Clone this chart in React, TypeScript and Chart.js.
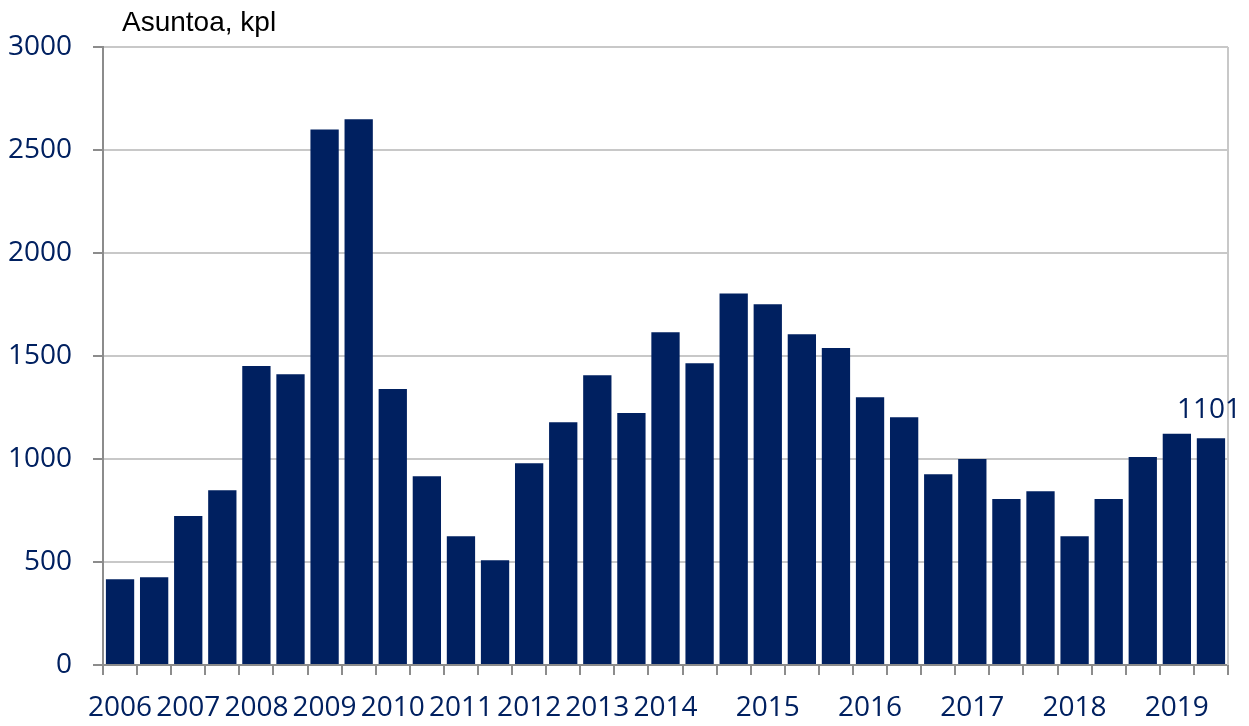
import { useEffect, useRef } from "react";
import { Chart, registerables } from "chart.js";
Chart.register(...registerables);

const categories: string[] = [
  "2006", "", "2007", "", "2008", "", "2009", "", "2010", "", "2011", "",
  "2012", "", "2013", "", "2014", "", "", "2015", "", "", "2016", "", "",
  "2017", "", "", "2018", "", "", "2019", "",
];

const values: number[] = [
  416, 426, 723, 848, 1451, 1412, 2600, 2649, 1340, 916, 625, 508, 979,
  1178, 1406, 1223, 1615, 1465, 1803, 1751, 1605, 1539, 1300, 1203, 926,
  1000, 806, 843, 625, 806, 1010, 1123, 1101,
];

const yTicks: number[] = [0, 500, 1000, 1500, 2000, 2500, 3000];
const yAxisTitle = "Asuntoa, kpl";
const labelledValue = "1101";

const NAVY = "#002060";
const AXIS = "#8c8c8c";
const GRID = "#c8c8c8";

export default function App() {
  const ref = useRef<HTMLCanvasElement | null>(null);

  useEffect(() => {
    if (!ref.current) return;
    const overlay = {
      id: "overlay",
      afterDraw(chart: any) {
        const { ctx, chartArea } = chart;
        const x = chart.scales.x;
        const y = chart.scales.y;
        ctx.save();
        ctx.strokeStyle = GRID;
        ctx.lineWidth = 2;
        ctx.beginPath();
        ctx.moveTo(chartArea.right, chartArea.top);
        ctx.lineTo(chartArea.right, chartArea.bottom);
        ctx.stroke();
        ctx.fillStyle = "#000000";
        ctx.font = "28px 'Liberation Sans', Arial, sans-serif";
        ctx.textAlign = "left";
        ctx.textBaseline = "alphabetic";
        ctx.fillText(yAxisTitle, 122, 31);
        const idx = values.length - 1;
        const px = x.getPixelForValue(idx);
        const py = y.getPixelForValue(values[idx]);
        ctx.fillStyle = NAVY;
        ctx.font = "28px 'Open Sans', sans-serif";
        ctx.textAlign = "center";
        ctx.textBaseline = "alphabetic";
        ctx.fillText(labelledValue, px - 2, py - 20);
        ctx.restore();
      },
    };

    const chart = new Chart(ref.current, {
      type: "bar",
      data: {
        labels: categories,
        datasets: [
          {
            data: values,
            backgroundColor: NAVY,
            categoryPercentage: 1,
            barPercentage: 0.83,
          },
        ],
      },
      options: {
        animation: false,
        responsive: true,
        maintainAspectRatio: false,
        layout: { padding: { top: 47, right: 21, bottom: 0, left: 0 } },
        plugins: {
          legend: { display: false },
          tooltip: { enabled: false },
          title: { display: false },
        },
        scales: {
          x: {
            offset: true,
            grid: {
              offset: true,
              drawOnChartArea: false,
              drawTicks: true,
              tickLength: 10,
              tickColor: AXIS,
              lineWidth: 2,
              color: AXIS,
            },
            border: { color: AXIS, width: 2 },
            ticks: {
              autoSkip: false,
              maxRotation: 0,
              minRotation: 0,
              color: NAVY,
              padding: 16,
              font: { family: "'Open Sans', sans-serif", size: 28 },
            },
            afterFit(scale: any) {
              scale.height = 61;
            },
          },
          y: {
            min: 0,
            max: 3000,
            afterBuildTicks(scale: any) {
              scale.ticks = yTicks.map((v) => ({ value: v }));
            },
            grid: {
              color: GRID,
              lineWidth: 2,
              tickLength: 10,
              tickColor: AXIS,
            },
            border: { color: AXIS, width: 2 },
            ticks: {
              color: NAVY,
              padding: 21,
              font: { family: "'Open Sans', sans-serif", size: 28 },
              callback: (v: any) => String(v),
            },
            afterFit(scale: any) {
              scale.width = 103;
            },
          },
        },
      },
      plugins: [overlay],
    });
    return () => chart.destroy();
  }, []);

  return (
    <div style={{ position: "fixed", left: 0, top: 0, width: 1249, height: 726, background: "#fff" }}>
      <canvas ref={ref} />
    </div>
  );
}
